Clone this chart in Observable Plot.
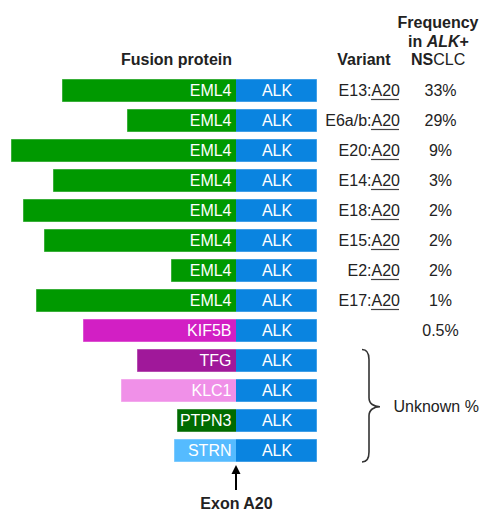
<!DOCTYPE html>
<html>
<head>
<meta charset="utf-8">
<script src="https://cdn.jsdelivr.net/npm/d3@7"></script>
<script src="https://cdn.jsdelivr.net/npm/@observablehq/plot@0.6"></script>
<style>
  html, body { margin: 0; padding: 0; background: #fff; }
</style>
</head>
<body>
<div id="chart"></div>
<script>
// ---- data ----
const partners = ["EML4","EML4","EML4","EML4","EML4","EML4","EML4","EML4","KIF5B","TFG","KLC1","PTPN3","STRN"];
const partnerLength = [174,109,225,183,213,192,65,200,153,99,115,59,62];   // relative length of the partner segment
const alkLength = 81;                                                      // relative length of the ALK segment
const variants = ["E13","E6a/b","E20","E14","E18","E15","E2","E17","","","","",""];
const exon = "A20";
const frequency = ["33%","29%","9%","3%","2%","2%","2%","1%","0.5%","","","",""];
const unknownGroup = ["TFG","KLC1","PTPN3","STRN"];

// ---- styles ----
const partnerColors = {EML4:"#009900", KIF5B:"#D21FC4", TFG:"#A0189A", KLC1:"#F090E8", PTPN3:"#006B00", STRN:"#55BBFF"};
const alkColor = "#0A84E0";
const font = "Liberation Sans, Arial, Helvetica, sans-serif";
// column positions (in x units, 0 = fusion point at exon A20)
const colVariant = 135, colFreq = 204, colBrace = 126;

const rows = partners.map((p, i) => ({
  id: "r" + i, partner: p, len: partnerLength[i],
  variant: variants[i], freq: frequency[i]
}));
const ids = rows.map(d => d.id);
const withVariant = rows.filter(d => d.variant !== "");
const withFreq = rows.filter(d => d.freq !== "");

const braceMark = (index, scales, values, dims) => {
  const y = scales.y, bw = y.bandwidth();
  const first = rows.find(d => d.partner === unknownGroup[0]).id;
  const last = rows.find(d => d.partner === unknownGroup[unknownGroup.length - 1]).id;
  const yTop = y(first) + 0.5, yBot = y(last) + bw;
  const mid = (yTop + yBot) / 2 + 1;
  const x0 = scales.x(colBrace), x1 = x0 + 7, xt = x0 + 18;
  const path = `M${x0},${yTop} C${x0+5},${yTop} ${x1},${yTop+3} ${x1},${yTop+10} L${x1},${mid-9} C${x1},${mid-3} ${x1+5},${mid} ${xt},${mid} C${x1+5},${mid} ${x1},${mid+3} ${x1},${mid+9} L${x1},${yBot-10} C${x1},${yBot-3} ${x0+5},${yBot} ${x0},${yBot}`;
  const g = d3.create("svg:g");
  g.append("path").attr("d", path).attr("fill", "none").attr("stroke", "#333").attr("stroke-width", 1.6);
  return g.node();
};

const arrowMark = (index, scales, values, dims) => {
  const y = scales.y, bw = y.bandwidth();
  const last = ids[ids.length - 1];
  const tip = y(last) + bw + 3;
  const x = scales.x(0);
  const g = d3.create("svg:g");
  g.append("line").attr("x1", x).attr("x2", x).attr("y1", tip + 6).attr("y2", tip + 25)
    .attr("stroke", "#000").attr("stroke-width", 2);
  g.append("path").attr("d", `M${x},${tip} L${x-4.5},${tip+9} L${x+4.5},${tip+9} Z`).attr("fill", "#000");
  return g.node();
};

const chart = Plot.plot({
  width: 480,
  height: 511,
  marginLeft: 0,
  marginRight: 0,
  marginTop: 73.3,
  marginBottom: 42.3,
  style: {fontFamily: font, fontSize: "16px", background: "#fff", color: "#222", overflow: "visible"},
  x: {domain: [-236, 244], axis: null},
  y: {type: "band", domain: ids, paddingInner: 0.23, paddingOuter: 0.115, axis: null},
  color: {type: "identity"},
  marks: [
    // partner segments
    Plot.barX(rows, {y: "id", x1: d => -d.len, x2: 0, fill: d => partnerColors[d.partner]}),
    // ALK segments
    Plot.barX(rows, {y: "id", x1: 0, x2: alkLength, fill: alkColor}),
    // light outline around each whole fusion bar
    Plot.barX(rows, {y: "id", x1: d => -d.len, x2: alkLength, fill: "none", stroke: "#fff", strokeOpacity: 0.45, strokeWidth: 1}),
    // labels in bars
    Plot.text(rows, {y: "id", x: 0, dx: -5, text: "partner", textAnchor: "end", fill: "#fff", fontSize: 16, fontFamily: font}),
    Plot.text(rows, {y: "id", x: alkLength / 2, text: () => "ALK", fill: "#fff", fontSize: 16, fontFamily: font}),
    // variant column
    Plot.text(withVariant, {y: "id", x: colVariant, text: d => d.variant + ":", textAnchor: "end", fill: "#222", fontSize: 16, fontFamily: font}),
    Plot.text(withVariant, {y: "id", x: colVariant, text: () => exon, textAnchor: "start", fill: "#222", fontSize: 16, fontFamily: font}),
    Plot.ruleY(withVariant, {y: "id", x1: colVariant, x2: colVariant + 28, dy: 8.5, stroke: "#444", strokeWidth: 1.2}),
    // frequency column
    Plot.text(withFreq, {y: "id", x: colFreq, text: "freq", fill: "#222", fontSize: 16, fontFamily: font}),
    // headers
    Plot.text(["Fusion protein"], {x: -60, frameAnchor: "top", lineAnchor: "bottom", dy: -9.3, text: d => d, fontWeight: "bold", fill: "#222", fontSize: 16, fontFamily: font}),
    Plot.text(["Variant"], {x: 127.5, frameAnchor: "top", lineAnchor: "bottom", dy: -9.3, text: d => d, fontWeight: "bold", fill: "#222", fontSize: 16, fontFamily: font}),
    Plot.text(["Frequency"], {x: 201.5, frameAnchor: "top", lineAnchor: "bottom", dy: -46.3, text: d => d, fontWeight: "bold", fill: "#222", fontSize: 16, fontFamily: font}),
    Plot.text(["in "], {x: 171.5, frameAnchor: "top", lineAnchor: "bottom", dy: -27.3, text: d => d, textAnchor: "start", fontWeight: "bold", fill: "#222", fontSize: 16, fontFamily: font}),
    Plot.text(["ALK"], {x: 190.2, frameAnchor: "top", lineAnchor: "bottom", dy: -27.3, text: d => d, textAnchor: "start", fontWeight: "bold", fontStyle: "italic", fill: "#222", fontSize: 16, fontFamily: font}),
    Plot.text(["+"], {x: 223.1, frameAnchor: "top", lineAnchor: "bottom", dy: -27.3, text: d => d, textAnchor: "start", fontWeight: "bold", fill: "#222", fontSize: 16, fontFamily: font}),
    Plot.text(["NS"], {x: 174.5, frameAnchor: "top", lineAnchor: "bottom", dy: -9.3, text: d => d, textAnchor: "start", fontWeight: "bold", fill: "#222", fontSize: 16, fontFamily: font}),
    Plot.text(["CLC"], {x: 196.7, frameAnchor: "top", lineAnchor: "bottom", dy: -9.3, text: d => d, textAnchor: "start", fill: "#222", fontSize: 16, fontFamily: font}),
    // unknown group brace + label
    braceMark,
    Plot.text(["Unknown %"], {x: colBrace + 31, y: () => rows.find(d => d.partner === "KLC1").id, dy: 15.5, text: d => d, textAnchor: "start", fill: "#222", fontSize: 16, fontFamily: font}),
    // exon arrow + label
    arrowMark,
    Plot.text(["Exon A20"], {x: 0, frameAnchor: "bottom", lineAnchor: "bottom", dy: 39.3, text: d => d, fontWeight: "bold", fill: "#222", fontSize: 16, fontFamily: font})
  ]
});

document.getElementById("chart").appendChild(chart);
</script>
</body>
</html>
